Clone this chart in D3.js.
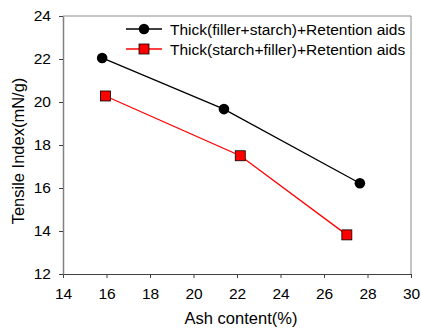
<!DOCTYPE html>
<html><head><meta charset="utf-8">
<script src="https://cdn.jsdelivr.net/npm/d3@7"></script>
<style>body{margin:0;background:#fff}svg{display:block;font-family:"Liberation Sans",Arial,sans-serif}</style>
</head><body><svg id="c" width="421" height="329"></svg>
<script>
const xTicks = [14,16,18,20,22,24,26,28,30];
const yTicks = [12,14,16,18,20,22,24];
const seriesNames = ["Thick(filler+starch)+Retention aids","Thick(starch+filler)+Retention aids"];
const ashBlack = [15.8, 21.4, 27.65];
const tensileBlack = [22.05, 19.67, 16.22];
const ashRed = [15.95, 22.15, 27.05];
const tensileRed = [20.28, 17.5, 13.82];
const xTitle = "Ash content(%)";
const yTitle = "Tensile Index(mN/g)";

const svg = d3.select("#c");
const L=63, R=411, T=16, B=274;
const x = d3.scaleLinear().domain([14,30]).range([L,R]);
const y = d3.scaleLinear().domain([12,24]).range([B,T]);

svg.append("line").attr("x1",L).attr("x2",R).attr("y1",T).attr("y2",T).attr("stroke","#8c8c8c").attr("stroke-width",1);
svg.append("line").attr("x1",R).attr("x2",R).attr("y1",T).attr("y2",B).attr("stroke","#8c8c8c").attr("stroke-width",1);

const xa = svg.append("g").attr("transform",`translate(0,${B})`)
  .call(d3.axisBottom(x).tickValues(xTicks).tickSize(4).tickSizeOuter(0).tickPadding(10));
xa.select(".domain").attr("stroke","#404040");
xa.selectAll(".tick line").attr("stroke","#404040");
xa.selectAll("text").attr("font-size",15.5).attr("fill","#000").attr("font-family","Liberation Sans, Arial, sans-serif");

const ya = svg.append("g").attr("transform",`translate(${L},0)`)
  .call(d3.axisLeft(y).tickValues(yTicks).tickSize(4).tickSizeOuter(0).tickPadding(8));
ya.select(".domain").attr("stroke","#808080").attr("stroke-width",1.5);
ya.selectAll(".tick line").attr("stroke","#404040");
ya.selectAll("text").attr("font-size",15.5).attr("fill","#000").attr("font-family","Liberation Sans, Arial, sans-serif");

svg.append("text").attr("x",241).attr("y",324).attr("text-anchor","middle").attr("font-size",16.5).text(xTitle);
svg.append("text").attr("transform",`translate(24,151) rotate(-90)`).attr("text-anchor","middle").attr("font-size",16.5).text(yTitle);

const line = d3.line().x(d=>x(d[0])).y(d=>y(d[1]));
const black = ashBlack.map((a,i)=>[a,tensileBlack[i]]);
const red = ashRed.map((a,i)=>[a,tensileRed[i]]);
svg.append("path").attr("d",line(black)).attr("fill","none").attr("stroke","#000").attr("stroke-width",1.3);
svg.append("path").attr("d",line(red)).attr("fill","none").attr("stroke","#ff0000").attr("stroke-width",1.3);
svg.selectAll("circle.b").data(black).enter().append("circle").attr("cx",d=>x(d[0])).attr("cy",d=>y(d[1])).attr("r",5.3).attr("fill","#000");
svg.selectAll("rect.r").data(red).enter().append("rect").attr("x",d=>x(d[0])-5).attr("y",d=>y(d[1])-5).attr("width",10).attr("height",10).attr("fill","#ff0000").attr("stroke","#000").attr("stroke-width",0.8);

const lg = svg.append("g");
[0,1].forEach(i=>{
  const yy = 29 + i*20;
  lg.append("line").attr("x1",126).attr("x2",162).attr("y1",yy).attr("y2",yy).attr("stroke",i?"#ff0000":"#000").attr("stroke-width",1.3);
  if(i===0) lg.append("circle").attr("cx",144).attr("cy",yy).attr("r",5.3).attr("fill","#000");
  else lg.append("rect").attr("x",139).attr("y",yy-5).attr("width",10).attr("height",10).attr("fill","#ff0000").attr("stroke","#000").attr("stroke-width",0.8);
  lg.append("text").attr("x",170).attr("y",yy+5.5).attr("font-size",15.5).text(seriesNames[i]);
});
</script></body></html>
